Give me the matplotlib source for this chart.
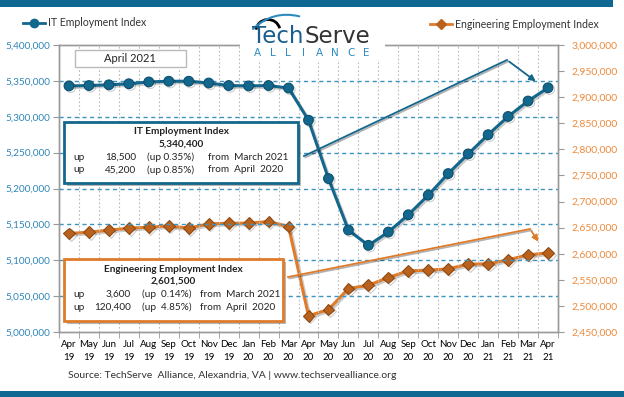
import matplotlib
matplotlib.use("Agg")
import matplotlib.pyplot as plt
import matplotlib.patheffects as pe
from matplotlib.lines import Line2D
from matplotlib.patches import Rectangle, FancyArrowPatch, Arc
import numpy as np

# data
months = ["Apr\n19", "May\n19", "Jun\n19", "Jul\n19", "Aug\n19", "Sep\n19", "Oct\n19",
          "Nov\n19", "Dec\n19", "Jan\n20", "Feb\n20", "Mar\n20", "Apr\n20", "May\n20",
          "Jun\n20", "Jul\n20", "Aug\n20", "Sep\n20", "Oct\n20", "Nov\n20", "Dec\n20",
          "Jan\n21", "Feb\n21", "Mar\n21", "Apr\n21"]
it_index = [5343000, 5343500, 5344500, 5346000, 5348500, 5349500, 5349500, 5347000,
            5343500, 5343000, 5343500, 5340000, 5295200, 5213900, 5142100, 5120800,
            5139300, 5163400, 5190700, 5220800, 5248200, 5275000, 5300400, 5321900, 5340400]
eng_index = [2638800, 2641300, 2645100, 2649000, 2650900, 2653400, 2649000, 2657300,
             2658500, 2658500, 2661700, 2652100, 2481100, 2493000, 2533300, 2539600,
             2554400, 2567200, 2568500, 2571000, 2580000, 2580600, 2588300, 2597900, 2601500]
left_ticks = np.arange(5000000, 5400001, 50000)
right_ticks = np.arange(2450000, 3000001, 50000)

it_rows = [["up", "18,500", "(up 0.35%)", "from  March 2021"],
           ["up", "45,200", "(up 0.85%)", "from  April  2020"]]
eng_rows = [["up", "3,600", "(up  0.14%)", "from  March 2021"],
            ["up", "120,400", "(up  4.85%)", "from  April  2020"]]

TEAL = "#13678c"
ORANGE = "#e07b2a"
ORANGE_DK = "#b8621e"
BLUE_TXT = "#2e86b8"
ORANGE_TXT = "#ee8a3c"
GRID_BLUE = "#3f93bf"
FONT = "Lato"

W, H = 624, 397
fig = plt.figure(figsize=(W / 100, H / 100), dpi=100)


def fx(x):
    return x / W


def fy(y):
    return 1 - y / H


ax = fig.add_axes([fx(59), fy(332), fx(558) - fx(59), fy(45) - fy(332)])
ax2 = ax.twinx()

x = np.arange(len(months))
shadow = [pe.SimpleLineShadow(offset=(1.2, -1.2), alpha=0.2), pe.Normal()]

ax.plot(x, it_index, color=TEAL, lw=2.2, marker="o", ms=7, mfc=TEAL, mec="#0c4f6e",
        mew=0.8, zorder=5, path_effects=shadow)
ax2.plot(x, eng_index, color=ORANGE, lw=2.2, marker="D", ms=6, mfc=ORANGE_DK, mec="#8e4a14",
         mew=0.8, zorder=5, path_effects=shadow)

ax.set_xlim(-0.5, len(months) - 0.5)
ax.set_ylim(5000000, 5400000)
ax2.set_ylim(2450000, 3000000)

ax.set_yticks(left_ticks)
ax.set_yticklabels([f"{v:,}" for v in left_ticks], color=BLUE_TXT, fontsize=7.2, family=FONT)
ax2.set_yticks(right_ticks)
ax2.set_yticklabels([f"{v:,}" for v in right_ticks], color=ORANGE_TXT, fontsize=7.5, family=FONT)

ax.set_xticks(x)
ax.set_xticklabels(months, fontsize=7, family=FONT, linespacing=1.5)
ax.set_xticks(np.arange(-0.5, len(months), 1), minor=True)
ax.tick_params(axis="x", which="major", length=0, pad=6)
ax.tick_params(axis="x", which="minor", length=4, color="#999999")
ax.tick_params(axis="y", length=4, color="#999999", pad=2)
ax2.tick_params(axis="y", length=4, color="#999999", pad=6)

for v in left_ticks[1:-1]:
    ax.axhline(v, color=GRID_BLUE, lw=1, ls=(0, (3, 2.5)), zorder=1)
for b in np.arange(0.5, len(months) - 1, 1):
    ax.axvline(b, color="#bbbbbb", lw=0.8, ls=(0, (1.5, 2)), zorder=0)

for a in (ax, ax2):
    for s in a.spines.values():
        s.set_color("#9a9a9a")
        s.set_linewidth(1)
ax.set_zorder(ax2.get_zorder() + 1)
ax.patch.set_visible(False)

# top and bottom bars
fig.add_artist(Rectangle((0, fy(7)), fx(613), fy(0) - fy(7), transform=fig.transFigure,
                         color="#0f6892", lw=0))
fig.add_artist(Rectangle((0, 0), 1, fy(391), transform=fig.transFigure, color="#0f6892", lw=0))

# logo
fig.add_artist(Rectangle((fx(240), fy(60)), fx(145), fy(12) - fy(60), transform=fig.transFigure,
                         color="white", lw=0, zorder=3))
t_tech = fig.text(fx(252), fy(43), "Tech", color="#1a5f8c", fontsize=16.5, family="DejaVu Sans",
                  zorder=4)
fig.canvas.draw()
bb = t_tech.get_window_extent()
fig.text(bb.x1 / W + 0.001, fy(43), "Serve", color="#333333", fontsize=16.5,
         family="DejaVu Sans", zorder=4)
for i, ch in enumerate("ALLIANCE"):
    fig.text(fx(257 + i * 15.6), fy(56), ch, color="#2e8bc0", fontsize=7.5, family="DejaVu Sans",
             ha="center", zorder=4)
fig.add_artist(Arc((fx(268), fy(31)), fx(24), fy(14) - fy(31) + 0.015, theta1=20, theta2=170,
                   transform=fig.transFigure, color="black", lw=2, zorder=4))
fig.add_artist(FancyArrowPatch((fx(251), fy(31)), (fx(302), fy(17)), transform=fig.transFigure,
                               connectionstyle="arc3,rad=-0.3", arrowstyle="-", color="#2e8bc0",
                               lw=1.5, zorder=4))

# legends
fig.add_artist(Line2D([fx(23), fx(45)], [fy(23), fy(23)], transform=fig.transFigure, color=TEAL,
                      lw=2))
fig.add_artist(Line2D([fx(34)], [fy(23)], transform=fig.transFigure, color=TEAL, marker="o", ms=6))
fig.text(fx(48), fy(23), "IT Employment Index", fontsize=7.6, family=FONT, va="center", color="#333333")
fig.add_artist(Line2D([fx(430), fx(452)], [fy(24), fy(24)], transform=fig.transFigure,
                      color=ORANGE, lw=2))
fig.add_artist(Line2D([fx(441)], [fy(24)], transform=fig.transFigure, color=ORANGE_DK,
                      marker="D", ms=5))
fig.text(fx(455), fy(24), "Engineering Employment Index", fontsize=7.6, family=FONT, va="center",
         color="#333333")

# April 2021 label
fig.add_artist(Rectangle((fx(75), fy(67)), fx(186) - fx(75), fy(50) - fy(67),
                         transform=fig.transFigure, fc="white", ec="#bbbbbb", lw=1, zorder=6))
fig.text(fx(130), fy(58.5), "April 2021", fontsize=8, family=FONT, ha="center", va="center",
         zorder=7, color="#222222")


def info_box(x0, y0, x1, y1, ec, title, value, rows, cols):
    fig.add_artist(Rectangle((fx(x0), fy(y1)), fx(x1) - fx(x0), fy(y0) - fy(y1),
                             transform=fig.transFigure, fc="white", ec=ec, lw=2, zorder=6,
                             path_effects=[pe.SimplePatchShadow(offset=(2, -2), alpha=0.4),
                                           pe.Normal()]))
    cx = (x0 + x1) / 2
    fig.text(fx(cx), fy(y0 + 10), title, fontsize=7.2, weight="bold", family=FONT, ha="center",
             va="center", zorder=7, color="#222222")
    fig.text(fx(cx), fy(y0 + 22.5), value, fontsize=7.2, weight="bold", family=FONT, ha="center",
             va="center", zorder=7, color="#222222")
    for r, row in enumerate(rows):
        yy = fy(y0 + 35.5 + r * 12.5)
        for txt, (px_, ha) in zip(row, cols):
            fig.text(fx(px_), yy, txt, fontsize=7.2, family=FONT, ha=ha, va="center", zorder=7,
                     color="#222222")


info_box(64, 122, 298, 183, TEAL, "IT Employment Index", "5,340,400", it_rows,
         [(73, "left"), (136, "right"), (147, "left"), (208, "left")])
info_box(64, 259, 283, 321, ORANGE, "Engineering Employment Index", "2,601,500", eng_rows,
         [(73, "left"), (131, "right"), (142, "left"), (200, "left")])

# callout arrows
lshadow = [pe.SimpleLineShadow(offset=(1, -1), alpha=0.3), pe.Normal()]
fig.add_artist(Line2D([fx(304), fx(507)], [fy(156), fy(60)], transform=fig.transFigure,
                      color=TEAL, lw=1.3, zorder=4, path_effects=lshadow))
fig.add_artist(FancyArrowPatch((fx(507), fy(60)), (fx(538), fy(83)), transform=fig.transFigure,
                               arrowstyle="-|>", mutation_scale=9, color=TEAL, lw=1.3, zorder=4))
fig.add_artist(Line2D([fx(288), fx(530)], [fy(277), fy(229)], transform=fig.transFigure,
                      color=ORANGE, lw=1.3, zorder=4, path_effects=lshadow))
fig.add_artist(FancyArrowPatch((fx(530), fy(229)), (fx(540), fy(244)), transform=fig.transFigure,
                               arrowstyle="-|>", mutation_scale=9, color=ORANGE, lw=1.3, zorder=4))

fig.text(fx(68), fy(376), "Source: TechServe  Alliance, Alexandria, VA | www.techservealliance.org",
         fontsize=7.5, family=FONT, va="center", color="#333333")

fig.savefig("out.png", dpi=100)
